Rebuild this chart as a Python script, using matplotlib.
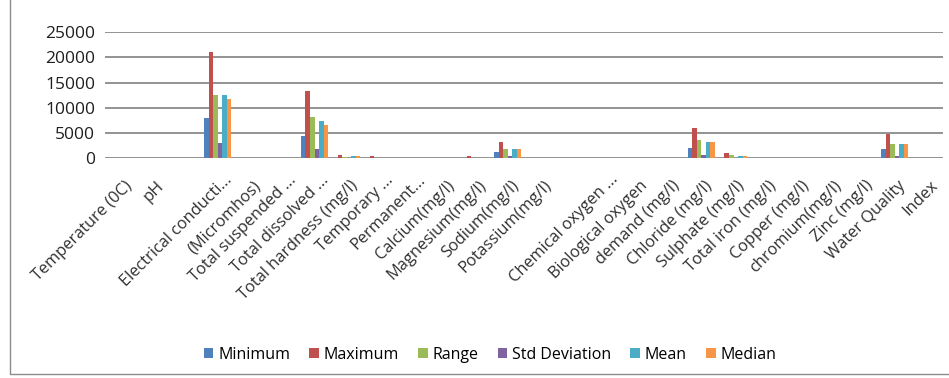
import matplotlib.pyplot as plt
import matplotlib.transforms as mtransforms
import numpy as np

plt.rcParams['font.family'] = ['Open Sans', 'DejaVu Sans']

# Category rows (blank rows kept so the bars line up with their labels)
categories = ['Temperature (0C)', 'pH', '', 'Electrical conducti...', '(Micromhos)',
              'Total suspended ...', 'Total dissolved ...', 'Total hardness (mg/l)',
              'Temporary ...', 'Permanent...', 'Calcium(mg/l)', 'Magnesium(mg/l)',
              'Sodium(mg/l)', 'Potassium(mg/l)', '', 'Chemical oxygen ...',
              'Biological oxygen', 'demand (mg/l)', 'Chloride (mg/l)', 'Sulphate (mg/l)',
              'Total iron (mg/l)', 'Copper (mg/l)', 'chromium(mg/l)', 'Zinc (mg/l)',
              'Water Quality', 'Index']

minimum = [0, 0, 0, 7900, 0, 0, 4450, 30, 0, 0, 0, 0, 1300, 0, 0, 0, 0, 0, 2100, 30, 0, 0, 0, 0, 1850, 0]
maximum = [0, 0, 0, 21000, 0, 0, 13250, 670, 400, 0, 0, 450, 3300, 0, 0, 0, 0, 0, 5950, 1050, 0, 0, 0, 0, 4900, 0]
value_range = [0, 0, 0, 12600, 0, 0, 8250, 340, 0, 0, 0, 0, 1850, 0, 0, 0, 0, 0, 3650, 720, 0, 0, 0, 0, 2780, 0]
std_dev = [0, 0, 0, 3000, 0, 0, 1850, 30, 0, 0, 0, 0, 450, 0, 0, 0, 0, 0, 720, 30, 0, 0, 0, 0, 450, 0]
mean = [0, 0, 0, 12600, 0, 0, 7400, 400, 0, 0, 0, 0, 1850, 0, 0, 0, 0, 0, 3300, 450, 0, 0, 0, 0, 2780, 0]
median = [0, 0, 0, 11750, 0, 0, 6550, 400, 0, 0, 0, 0, 1850, 0, 0, 0, 0, 0, 3300, 400, 0, 0, 0, 0, 2780, 0]

series_names = ['Minimum', 'Maximum', 'Range', 'Std Deviation', 'Mean', 'Median']
series = [minimum, maximum, value_range, std_dev, mean, median]
colors = ['#4F81BD', '#C0504D', '#9BBB59', '#8064A2', '#4BACC6', '#F79646']

W, H = 949, 378
fig = plt.figure(figsize=(W / 100, H / 100), dpi=100)
ax = fig.add_axes([105 / W, 1 - 158.3 / H, 838 / W, 126.3 / H])

x = np.arange(len(categories))
bw = 0.14
for k, (name, vals, col) in enumerate(zip(series_names, series, colors)):
    ax.bar(x + (k - 2.5) * bw, vals, bw, color=col, label=name, zorder=3)

ax.set_xlim(-0.5, len(categories) - 0.5)
ax.set_ylim(0, 25000)
ax.set_yticks(np.arange(0, 25001, 5000))
ax.yaxis.grid(True, color='#8a8a8a', lw=1.3, zorder=1)
for s in ax.spines.values():
    s.set_visible(False)
ax.tick_params(axis='y', length=0, pad=7, labelsize=12.5, labelcolor='#1e1e1e')

ax.set_xticks(x)
ax.set_xticklabels(categories, rotation=45, ha='right', rotation_mode='anchor')
ax.tick_params(axis='x', length=0, pad=14, labelsize=11.8, labelcolor='#303030')
# shift labels a little; truncated ones sit higher up the slant
for lbl in ax.get_xticklabels():
    dx, dy = 3, 0
    if lbl.get_text().endswith('...'):
        dx, dy = 6, 6
    lbl.set_transform(lbl.get_transform() +
                      mtransforms.ScaledTranslation(dx / fig.dpi, dy / fig.dpi, fig.dpi_scale_trans))

fig.legend(loc='center', bbox_to_anchor=(490 / W, 1 - 355 / H), ncol=6, frameon=False,
           handlelength=0.6, handleheight=0.6, handletextpad=0.3, columnspacing=1.2,
           fontsize=11.5)

# chart frame
fig.add_artist(plt.Line2D([10 / W, 10 / W, 1], [1, 1 - 374 / H, 1 - 374 / H],
                          transform=fig.transFigure, color='#8c8c8c', lw=1))

fig.savefig('out.png', dpi=100)
